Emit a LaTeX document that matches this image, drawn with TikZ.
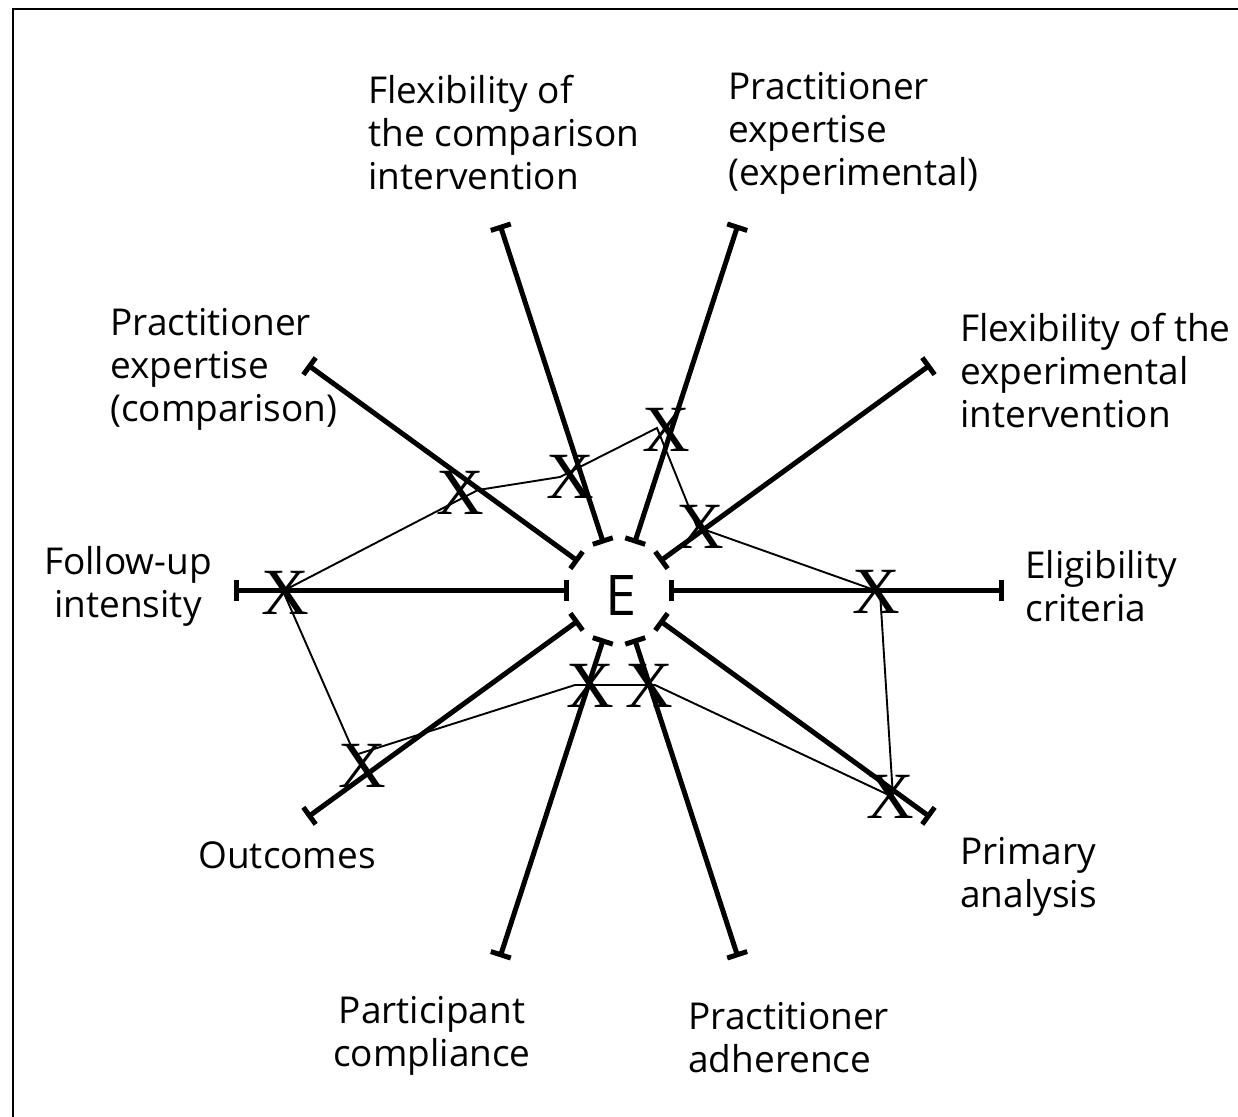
\documentclass[tikz,border=0pt]{standalone}
\usepackage{fontspec}
\setmainfont{Open Sans}
\newfontfamily\xfont{Liberation Serif}
\usetikzlibrary{arrows.meta,calc}
\begin{document}
\begin{tikzpicture}[x={(0.5pt,0pt)},y={(0pt,-0.5pt)},
  spoke/.style={line width=2.5pt,{Bar[width=10.5pt]}-{Bar[width=10.5pt]}},
  link/.style={line width=0.95pt},
  xmark/.style={font=\xfont\fontsize{33}{33}\selectfont,inner sep=0pt},
  lab/.style={font=\fontsize{18.5}{21.5}\selectfont,inner sep=0pt,align=left},
  labc/.style={font=\fontsize{18.5}{21.5}\selectfont,inner sep=0pt,align=center}]
\useasboundingbox (0,0) rectangle (1238,1117);
\fill[white] (0,0) rectangle (1238,1117);
\draw[line width=1.4pt] (13,1117) -- (13,9) -- (1238,9);
\coordinate (c) at (619,591);
\node[font=\fontsize{28}{28}\selectfont,inner sep=0pt] (E) at (621,596) {E};
\foreach \n/\a in {fu/180, pc/-144, fc/-108, pe/-72, fe/-36, ec/0, pa/36, ad/72, co/108, ou/144} {
  \coordinate (\n-in) at ($(c)+(\a:50)$);
  \coordinate (\n-out) at ($(c)+(\a:385)$);
  \draw[spoke] (\n-in) -- (\n-out);
}
% polyline vertices
\coordinate (pA) at (283,591);
\coordinate (pB) at (478,490);
\coordinate (pC) at (560,477);
\coordinate (pD) at (657,428);
\coordinate (pE) at (697,527);
\coordinate (pF) at (880,592);
\coordinate (pG) at (893,797);
\coordinate (pH) at (655,685);
\coordinate (pI) at (575,685);
\coordinate (pJ) at (355,755);
\draw[link] (pA) -- (pB) -- (pC) -- (pD) -- (pE) -- (pF) -- (pG) -- (pH) -- (pI) -- (pJ) -- cycle;
% X marks
\node[xmark] (xA) at (285,593) {X};
\node[xmark] (xB) at (460,493) {X};
\node[xmark] (xC) at (570,477) {X};
\node[xmark] (xD) at (666,430) {X};
\node[xmark] (xE) at (700,527) {X};
\node[xmark] (xF) at (876,592) {X};
\node[xmark] (xG) at (890,797) {X};
\node[xmark] (xH) at (649,686) {X};
\node[xmark] (xI) at (590,686) {X};
\node[xmark] (xJ) at (362,766) {X};
% labels
\node[lab,anchor=west] (lfc) at (368,133) {Flexibility of\\the comparison\\intervention};
\node[lab,anchor=west] (lpe) at (728,133) {Practitioner\\expertise\\(experimental)};
\node[lab,anchor=west] (lpc) at (110,369) {Practitioner\\expertise\\(comparison)};
\node[lab,anchor=west] (lfe) at (960,371) {Flexibility of the\\experimental\\intervention};
\node[labc] (lfu) at (128,586) {Follow-up\\intensity};
\node[lab,anchor=west] (lec) at (1025,586) {Eligibility\\criteria};
\node[lab,anchor=west] (lou) at (198,855) {Outcomes};
\node[lab,anchor=west] (lpa) at (960,877) {Primary\\analysis};
\node[labc] (lco) at (432,1036) {Participant\\compliance};
\node[lab,anchor=west] (lad) at (688,1038) {Practitioner\\adherence};
\end{tikzpicture}
\end{document}
